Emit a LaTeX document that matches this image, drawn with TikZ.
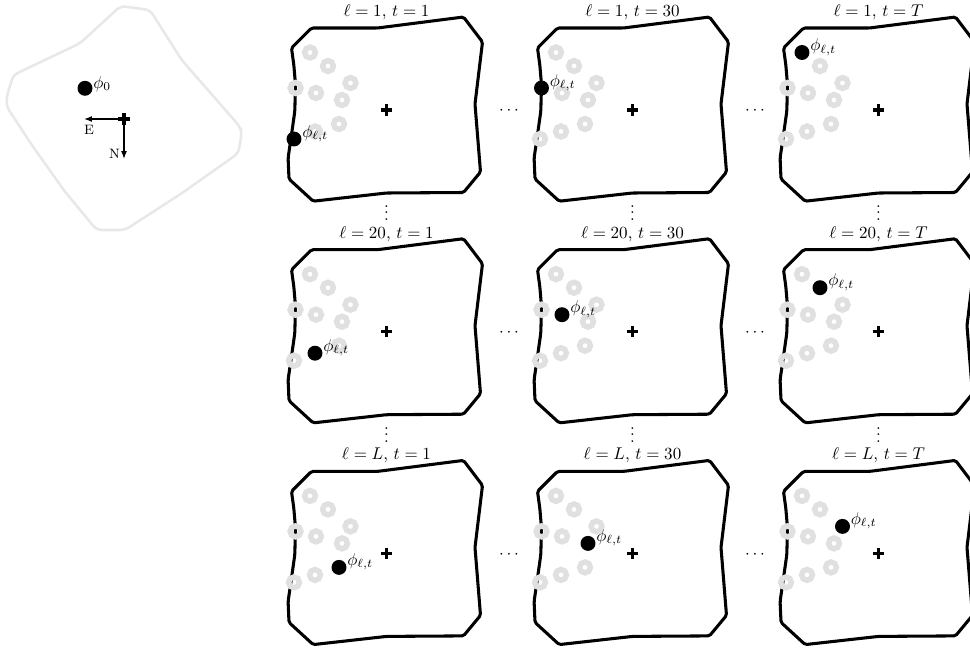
\documentclass[tikz,border=0pt]{standalone}
\usetikzlibrary{arrows.meta,calc}
\newcommand{\myvdots}{\vbox{\baselineskip3.8pt\lineskiplimit0pt\hbox{.}\hbox{.}\hbox{.}}}
\begin{document}
\begin{tikzpicture}[x=0.588pt,y=-0.588pt,
  panelline/.style={line width=1.8pt, line join=round, rounded corners=1pt},
  faintline/.style={draw=black!9, line width=1.5pt, line join=round, rounded corners=3pt},
  ringnode/.style={circle, draw=black!12, line width=3.2pt, minimum size=6.4pt, inner sep=0pt},
  dotnode/.style={circle, fill=black, minimum size=8.8pt, inner sep=0pt},
  plusline/.style={line width=1.8pt},
  titletext/.style={anchor=base, inner sep=0pt},
  phitext/.style={anchor=base west, inner sep=0pt},
  dirarrow/.style={line width=0.7pt, -{Latex[length=4.6pt,width=3.4pt]}},
]
\useasboundingbox (0,0) rectangle (970,650);
\clip (0,0) rectangle (970,650);

% left reference shape
\draw[faintline] (120.7,6) -- (150,10) -- (181.7,60) -- (240,126.7) -- (241.7,133.3) -- (238.3,153.3) -- (181.7,193.3) -- (125,230) -- (96.7,230) -- (65,191.7) -- (33,146.7) -- (6.7,106.7) -- (6.7,96.7) -- (13.3,75) -- (80,43.3) -- cycle;
\node[dotnode] (phi0) at (85,88.3) {};
\node[phitext] (phi0lab) at (93,88.4) {$\phi_0$};
\coordinate (o) at (124,119);
\coordinate (east) at (84,119);
\coordinate (north) at (124,159);
\draw[dirarrow] (o) -- (east);
\draw[dirarrow] (o) -- (north);
\draw[plusline] (o) +(-5.7,0) -- +(5.7,0) (o) +(0,-5.7) -- +(0,5.7);
\node[font=\footnotesize, inner sep=0pt] (elab) at (89,129.5) {E};
\node[font=\footnotesize, inner sep=0pt] (nlab) at (114.5,154) {N};

% panels
\foreach \col/\row/\lv/\tv/\k in {0/0/1/1/9, 1/0/1/30/4, 2/0/1/T/1, 0/1/20/1/8, 1/1/20/30/5, 2/1/20/T/2, 0/2/L/1/7, 1/2/L/30/6, 2/2/L/T/3}{
  \begin{scope}[shift={({386.5+246*\col},{110+221.7*\row})}]
    \draw[panelline] (-75,-82) -- (-9,-82) -- (77,-93) -- (96,-68) -- (88.5,-6) -- (94,62) -- (77,82.5) -- (0,83) -- (-73.3,91.2) -- (-97.5,69) -- (-98.4,48) -- (-95,24.7) -- (-91.7,1.3) -- (-91,-25.3) -- (-92.7,-45.3) -- (-95,-62) -- cycle;
    \foreach \i/\x/\y in {1/-76.5/-57.5, 2/-58.5/-44, 3/-36/-27, 4/-91/-22, 5/-70.5/-17, 6/-44.5/-10, 7/-47.5/14, 8/-71.5/21.5, 9/-92.5/29}{
      \coordinate (q\col\row\i) at (\x,\y);
      \ifnum\i=\k\relax\else \node[ringnode] (ring\col\row\i) at (q\col\row\i) {};\fi
    }
    \coordinate (ctr\col\row) at (0,0);
    \draw[plusline] (ctr\col\row) +(-5.7,0) -- +(5.7,0) (ctr\col\row) +(0,-5.7) -- +(0,5.7);
    \node[dotnode] (dot\col\row) at (q\col\row\k) {};
    \node[phitext] (lab\col\row) at ($(dot\col\row)+(8,-2)$) {$\phi_{\ell,t}$};
    \node[titletext] (title\col\row) at (0,-93.5) {$\ell=\lv$, $t=\tv$};
  \end{scope}
}

% ellipses
\foreach \row in {0,1,2}{
  \foreach \col in {0,1}{
    \node (hd\col\row) at ({509+246*\col},{111+221.7*\row}) {$\cdots$};
  }
}
\foreach \col in {0,1,2}{
  \foreach \row in {0,1}{
    \node[inner sep=0pt] (vd\col\row) at ({386.5+246*\col},{213+221.7*\row}) {\myvdots};
  }
}
\end{tikzpicture}
\end{document}
